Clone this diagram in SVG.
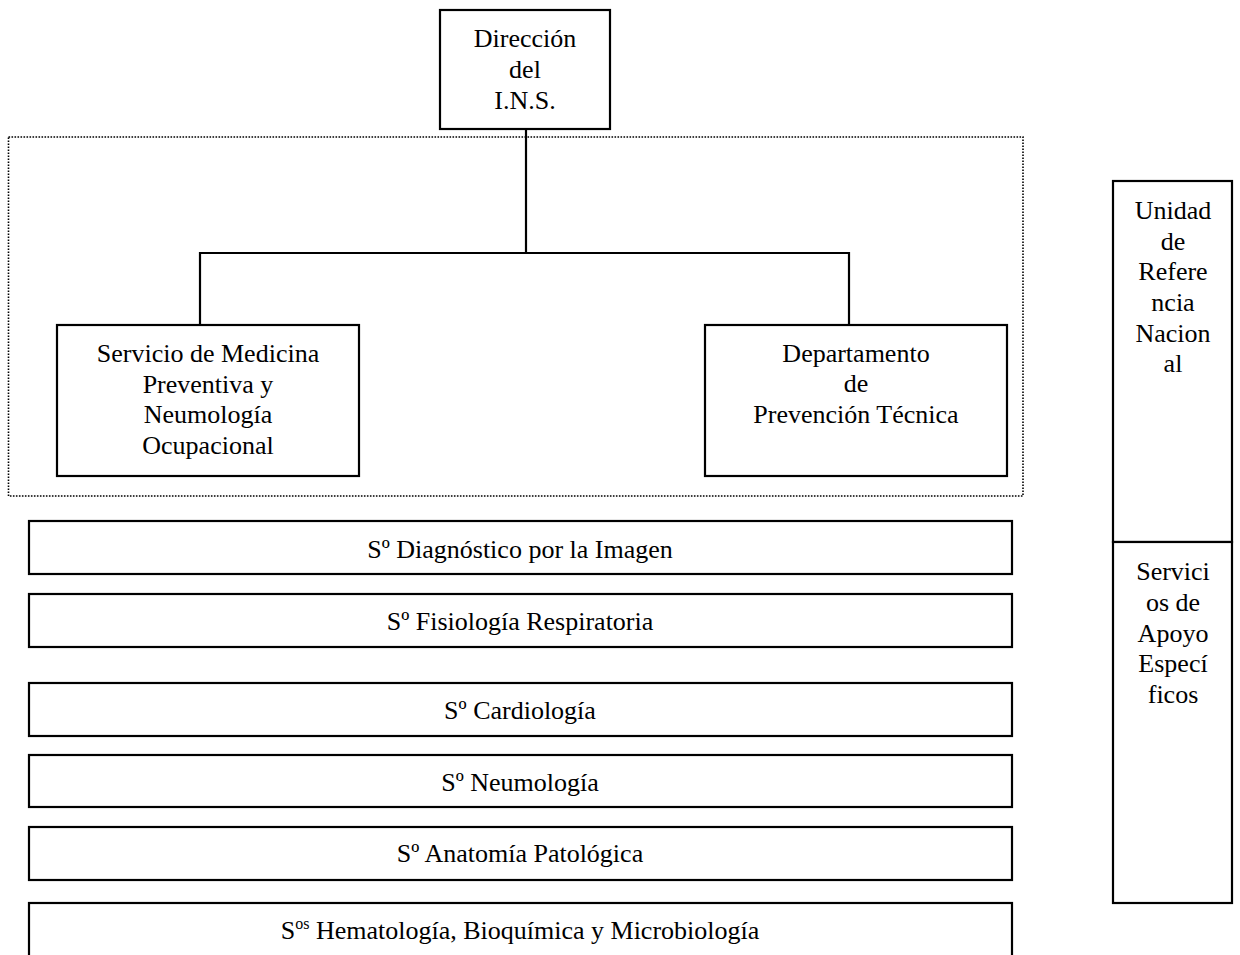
<svg xmlns="http://www.w3.org/2000/svg" width="1240" height="955" viewBox="0 0 1240 955">
<style>
.box{fill:#fff;stroke:#000;stroke-width:2.2}
.t{font-family:"Liberation Serif","Times New Roman",serif;font-size:26px;fill:#000;text-anchor:middle}
.sup{font-size:16px}
.conn{stroke:#000;stroke-width:2.2;fill:none}
.dot{fill:none;stroke:#000;stroke-width:1.6;stroke-dasharray:1.6 1.4}
</style>
<rect width="1240" height="955" fill="#fff"/>
<rect id="grupo" class="dot" x="8.5" y="137" width="1014.5" height="359"/>
<g id="connectors">
<line class="conn" x1="526" y1="129" x2="526" y2="253"/>
<line class="conn" x1="200" y1="253" x2="850" y2="253"/>
<line class="conn" x1="200" y1="252" x2="200" y2="325"/>
<line class="conn" x1="849" y1="252" x2="849" y2="325"/>
</g>
<g id="direccion">
<rect class="box" x="440" y="10" width="170" height="119"/>
<text class="t" x="525" y="47">Dirección</text>
<text class="t" x="525" y="78">del</text>
<text class="t" x="525" y="109">I.N.S.</text>
</g>
<g id="medicina">
<rect class="box" x="57" y="325" width="302" height="151"/>
<text class="t" x="208" y="362">Servicio de Medicina</text>
<text class="t" x="208" y="393">Preventiva y</text>
<text class="t" x="208" y="423">Neumología</text>
<text class="t" x="208" y="454">Ocupacional</text>
</g>
<g id="prevencion">
<rect class="box" x="705" y="325" width="302" height="151"/>
<text class="t" x="856" y="362">Departamento</text>
<text class="t" x="856" y="392">de</text>
<text class="t" x="856" y="423">Prevención Técnica</text>
</g>
<g id="unidad">
<rect class="box" x="1113" y="181" width="119" height="361"/>
<text class="t" x="1173" y="219">Unidad</text>
<text class="t" x="1173" y="250">de</text>
<text class="t" x="1173" y="280">Refere</text>
<text class="t" x="1173" y="311">ncia</text>
<text class="t" x="1173" y="342">Nacion</text>
<text class="t" x="1173" y="372">al</text>
</g>
<g id="apoyo">
<rect class="box" x="1113" y="542" width="119" height="361"/>
<text class="t" x="1173" y="580">Servici</text>
<text class="t" x="1173" y="611">os de</text>
<text class="t" x="1173" y="642">Apoyo</text>
<text class="t" x="1173" y="672">Especí</text>
<text class="t" x="1173" y="703">ficos</text>
</g>
<g id="imagen">
<rect class="box" x="29" y="521" width="983" height="53"/>
<text class="t" x="520" y="558">Sº Diagnóstico por la Imagen</text>
</g>
<g id="fisiologia">
<rect class="box" x="29" y="594" width="983" height="53"/>
<text class="t" x="520" y="630">Sº Fisiología Respiratoria</text>
</g>
<g id="cardiologia">
<rect class="box" x="29" y="683" width="983" height="53"/>
<text class="t" x="520" y="719">Sº Cardiología</text>
</g>
<g id="neumologia">
<rect class="box" x="29" y="755" width="983" height="52"/>
<text class="t" x="520" y="791">Sº Neumología</text>
</g>
<g id="anatomia">
<rect class="box" x="29" y="827" width="983" height="53"/>
<text class="t" x="520" y="862">Sº Anatomía Patológica</text>
</g>
<g id="hematologia">
<rect class="box" x="29" y="903" width="983" height="56"/>
<text class="t" x="520" y="939">S<tspan class="sup" dy="-10">os</tspan><tspan dy="10"> Hematología, Bioquímica y Microbiología</tspan></text>
</g>
</svg>
